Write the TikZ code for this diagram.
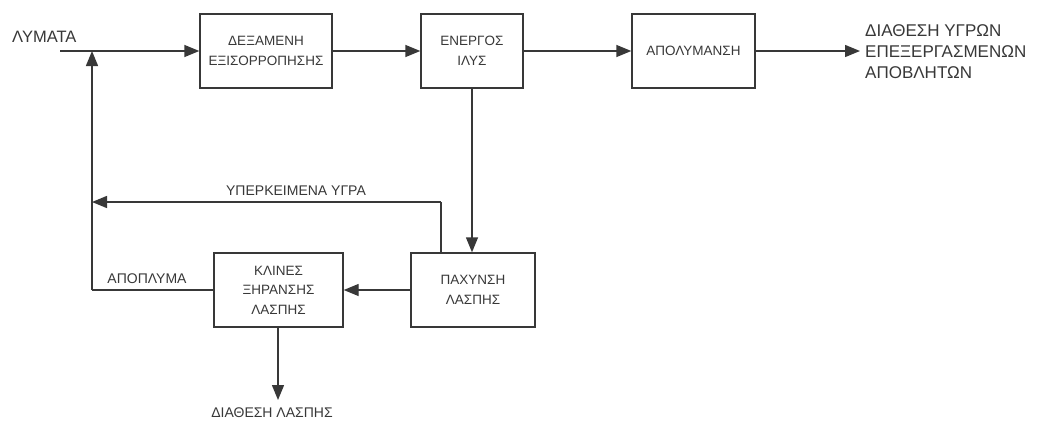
\documentclass[tikz,border=0pt]{standalone}
\usepackage{fontspec}
\setmainfont{Liberation Sans}
\usetikzlibrary{arrows.meta}
\definecolor{ink}{gray}{0.22}
\begin{document}
\begin{tikzpicture}[x=1pt,y=-1pt,
  box/.style={draw=ink,line width=1.4pt,inner sep=0pt,align=center,
    font=\fontsize{13.5}{19.5}\selectfont,text=ink},
  flow/.style={draw=ink,line width=1.4pt,-{Triangle[length=15pt,width=12pt]}},
  plain/.style={draw=ink,line width=1.4pt},
  lbl/.style={inner sep=0pt,text=ink,font=\fontsize{14}{19}\selectfont},
  big/.style={inner sep=0pt,text=ink,align=left,font=\fontsize{17}{21}\selectfont}]
\useasboundingbox (0,0) rectangle (1040,421);
\fill[white] (0,0) rectangle (1040,421);

\node[box,minimum width=132pt,minimum height=74pt] (dex) at (266,51) {ΔΕΞΑΜΕΝΗ\\ΕΞΙΣΟΡΡΟΠΗΣΗΣ};
\node[box,minimum width=102pt,minimum height=74pt] (ener) at (472,51) {ΕΝΕΡΓΟΣ\\ΙΛΥΣ};
\node[box,minimum width=123pt,minimum height=74pt] (apol) at (693.5,51) {ΑΠΟΛΥΜΑΝΣΗ};
\node[box,minimum width=124pt,minimum height=74pt] (pax) at (473,290) {ΠΑΧΥΝΣΗ\\ΛΑΣΠΗΣ};
\node[box,minimum width=129pt,minimum height=74pt] (kli) at (278.5,290) {ΚΛΙΝΕΣ\\ΞΗΡΑΝΣΗΣ\\ΛΑΣΠΗΣ};

\coordinate (in) at (60,51);
\coordinate (j1) at (92,51);
\coordinate (j2) at (92,202);
\coordinate (j3) at (92,290);
\coordinate (up) at (441,202);
\coordinate (out) at (860,51);
\coordinate (sl) at (278,400);

\node[lbl,font=\fontsize{16.5}{20}\selectfont,anchor=west] (lym) at (12,37) {ΛΥΜΑΤΑ};
\node[big,anchor=west] (dia) at (865,52) {ΔΙΑΘΕΣΗ ΥΓΡΩΝ\\ΕΠΕΞΕΡΓΑΣΜΕΝΩΝ\\ΑΠΟΒΛΗΤΩΝ};
\node[lbl] (yper) at (296,191) {ΥΠΕΡΚΕΙΜΕΝΑ ΥΓΡΑ};
\node[lbl] (apop) at (147,279) {ΑΠΟΠΛΥΜΑ};
\node[lbl] (dlas) at (272,413) {ΔΙΑΘΕΣΗ ΛΑΣΠΗΣ};

\draw[flow] (in) -- (dex.west);
\draw[flow] (dex.east) -- (ener.west);
\draw[flow] (ener.east) -- (apol.west);
\draw[flow] (apol.east) -- (out);
\draw[flow] (ener.south) -- (ener.south |- pax.north);
\draw[plain] (up |- pax.north) -- (up);
\draw[flow] (up) -- (j2);
\draw[flow] (pax.west) -- (kli.east);
\draw[plain] (kli.west) -- (j3);
\draw[flow] (j3) -- (j1);
\draw[flow] (kli.south -| sl) -- (sl);
\end{tikzpicture}
\end{document}
